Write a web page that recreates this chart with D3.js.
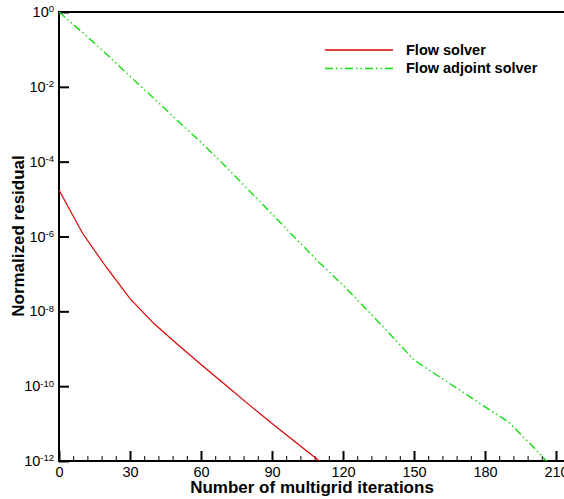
<!DOCTYPE html>
<html>
<head>
<meta charset="utf-8">
<script src="https://d3js.org/d3.v7.min.js"></script>
<style>
  body { margin: 0; background: #fff; }
  svg { display: block; font-family: "Liberation Sans", Arial, sans-serif; }
</style>
</head>
<body>
<svg id="chart"></svg>
<script>
// iterations and normalized residuals
var flowIter = [0, 10, 20, 30, 40, 50, 60, 70, 80, 90, 100, 110];
var flowRes = [1.74e-5, 1.2e-6, 1.51e-7, 2.19e-8, 4.79e-9, 1.32e-9, 3.8e-10, 1.12e-10, 3.31e-11, 1.0e-11, 3.16e-12, 1.0e-12];

var adjIter = [0, 10, 20, 30, 40, 50, 60, 70, 80, 90, 100, 110, 120, 130, 140, 150, 160, 170, 180, 190, 200, 206];
var adjRes = [1, 0.282, 0.0759, 0.0191, 5.0e-3, 1.26e-3, 3.3e-4, 7.9e-5, 1.78e-5, 3.98e-6, 8.9e-7, 2.0e-7,
              5.0e-8, 1.12e-8, 2.4e-9, 5.0e-10, 1.9e-10, 7.4e-11, 2.8e-11, 1.1e-11, 2.5e-12, 1.0e-12];

var xMajor = [0, 30, 60, 90, 120, 150, 180, 210];
var yMajor = [1, 1e-2, 1e-4, 1e-6, 1e-8, 1e-10, 1e-12];
var seriesNames = ["Flow solver", "Flow adjoint solver"];

var W = 564, H = 499;
var pLeft = 59, pRight = 556, pTop = 12, pBottom = 461;

var svg = d3.select("#chart").attr("width", W).attr("height", H);

var x = d3.scaleLinear().domain([0, 210]).range([pLeft, pRight]);
var y = d3.scaleLog().domain([1e-12, 1]).range([pBottom, pTop]);

svg.append("clipPath").attr("id", "clip")
  .append("rect").attr("x", pLeft).attr("y", pTop).attr("width", W - pLeft).attr("height", pBottom - pTop);

// minor x ticks
var xMinor = d3.range(0, 211, 6).filter(function(v) { return v % 30 != 0; });
svg.append("g")
  .attr("transform", "translate(0," + pBottom + ")")
  .call(d3.axisBottom(x).tickValues(xMinor).tickSize(-5).tickFormat(""))
  .call(function(g) {
    g.select(".domain").remove();
    g.selectAll(".tick line").attr("stroke", "#000").attr("stroke-width", 1);
  });

// major x ticks
svg.append("g")
  .attr("transform", "translate(0," + pBottom + ")")
  .call(d3.axisBottom(x).tickValues(xMajor).tickSize(-10).tickPadding(6).tickFormat(d3.format("d")))
  .call(function(g) {
    g.select(".domain").remove();
    g.selectAll(".tick line").attr("stroke", "#000").attr("stroke-width", 2);
    g.selectAll(".tick text").attr("fill", "#000").attr("font-size", "14.5px")
      .attr("font-family", "Liberation Sans, Arial, sans-serif");
  });

// y ticks with superscript labels
svg.append("g")
  .attr("transform", "translate(" + pLeft + ",0)")
  .call(d3.axisLeft(y).tickValues(yMajor).tickSize(-10).tickPadding(5).tickFormat(""))
  .call(function(g) {
    g.select(".domain").remove();
    g.selectAll(".tick line").attr("stroke", "#000").attr("stroke-width", 2);
    g.selectAll(".tick text").each(function(d) {
      var t = d3.select(this)
        .attr("fill", "#000")
        .attr("font-size", "14.5px")
        .attr("font-family", "Liberation Sans, Arial, sans-serif");
      t.text(null);
      t.append("tspan").text("10");
      t.append("tspan").attr("dy", "-0.5em").attr("font-size", "9.5px")
        .text(Math.round(Math.log10(d)));
    });
  });

// frame
svg.append("path")
  .attr("d", "M" + (W + 5) + "," + pTop + "H" + pLeft + "V" + pBottom + "H" + (W + 5))
  .attr("fill", "none")
  .attr("stroke", "#000")
  .attr("stroke-width", 2);

var line = d3.line()
  .x(function(d) { return x(d[0]); })
  .y(function(d) { return y(d[1]); });

var plot = svg.append("g").attr("clip-path", "url(#clip)");

plot.append("path")
  .datum(d3.zip(flowIter, flowRes))
  .attr("d", line)
  .attr("fill", "none")
  .attr("stroke", "#dd0000")
  .attr("stroke-width", 1.2);

plot.append("path")
  .datum(d3.zip(adjIter, adjRes))
  .attr("d", line)
  .attr("fill", "none")
  .attr("stroke", "#11dd11")
  .attr("stroke-width", 1.4)
  .attr("stroke-dasharray", "8,3,1.5,3,1.5,3");

// legend
var legend = svg.append("g");
var styles = [
  { color: "#dd0000", dash: null, y: 50 },
  { color: "#11dd11", dash: "8,3,1.5,3,1.5,3", y: 68.5 }
];
seriesNames.forEach(function(name, i) {
  legend.append("line")
    .attr("x1", 325).attr("x2", 393)
    .attr("y1", styles[i].y).attr("y2", styles[i].y)
    .attr("stroke", styles[i].color)
    .attr("stroke-width", 1.4)
    .attr("stroke-dasharray", styles[i].dash);
  legend.append("text")
    .attr("x", 406).attr("y", styles[i].y + 4.5)
    .attr("font-size", "14.5px")
    .attr("font-weight", "bold")
    .text(name);
});

// axis titles
svg.append("text")
  .attr("x", 312).attr("y", 493)
  .attr("text-anchor", "middle")
  .attr("font-size", "17px")
  .attr("font-weight", "bold")
  .text("Number of multigrid iterations");

svg.append("text")
  .attr("transform", "translate(23.5,236) rotate(-90)")
  .attr("text-anchor", "middle")
  .attr("font-size", "17px")
  .attr("font-weight", "bold")
  .text("Normalized residual");
</script>
</body>
</html>
